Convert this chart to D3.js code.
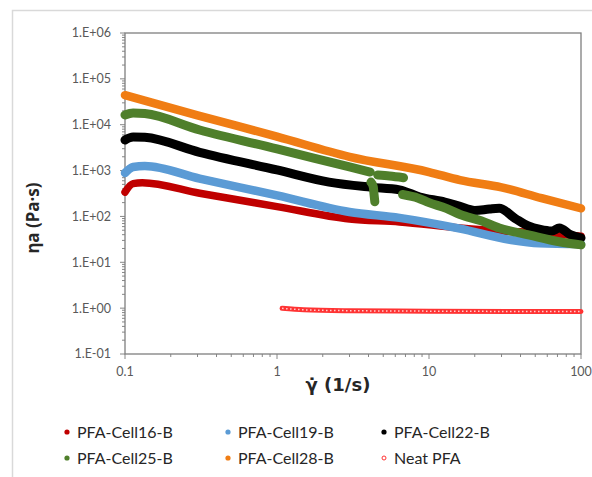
<!DOCTYPE html>
<html>
<head>
<meta charset="utf-8">
<script src="https://cdn.jsdelivr.net/npm/d3@7"></script>
<style>
  body { margin: 0; background: #fff; }
  svg { display: block; font-family: Lato, "Liberation Sans", sans-serif; }
</style>
</head>
<body>
<div id="chart"></div>
<script>
// values: [shear rate (1/s), viscosity (Pa·s)]
const cell16 = [[0.1, 340], [0.113, 520], [0.13, 540], [0.31, 320], [1, 164], [3, 88], [6.4, 76], [16, 56], [30, 48], [53, 44], [100, 37]];
const cell19 = [[0.1, 885], [0.113, 1200], [0.135, 1260], [0.31, 670], [1, 287], [3, 125], [6.4, 93], [16, 54], [34, 31], [53, 26], [100, 25]];
const cell22 = [[0.1, 4650], [0.113, 5400], [0.135, 5300], [0.31, 2500], [1, 1030], [2.2, 560], [4.1, 435], [6.4, 380], [8.7, 265], [12.7, 206],
                [16, 165], [20, 135], [25, 145], [29, 150], [37, 90], [45, 62], [54, 52], [64, 48], [72, 56], [85, 40], [100, 34]];
// green series has breaks, null marks a gap
const cell25 = [[0.1, 16300], [0.113, 18000], [0.135, 17500], [0.31, 7670], [1, 2960], [3, 1200], [4.1, 930], null,
                [4.15, 560], [4.3, 440], [4.35, 300], [4.4, 210], null,
                [4.6, 800], [5.5, 760], [6.8, 700], null,
                [6.7, 300], [8.5, 250], [10, 200], [13, 150], [16, 110], [22, 80], [29, 56], [46, 39], [72, 28], [100, 24]];
const cell28 = [[0.1, 44000], [0.3, 16000], [1, 5500], [3, 2000], [10, 930], [16, 620], [30, 430], [55, 250], [100, 150]];
const neat = [[1.08, 0.99], [1.5, 0.92], [3, 0.88], [10, 0.86], [100, 0.84]];

const seriesNames = ['PFA-Cell16-B', 'PFA-Cell19-B', 'PFA-Cell22-B', 'PFA-Cell25-B', 'PFA-Cell28-B', 'Neat PFA'];
const seriesColors = ['#c00000', '#5b9bd5', '#000000', '#4f7f2b', '#f07d14', '#ff3333'];
const xTicks = [0.1, 1, 10, 100];
const xTickLabels = ['0.1', '1', '10', '100'];
const yTicks = [0.1, 1, 10, 100, 1e3, 1e4, 1e5, 1e6];
const yTickLabels = ['1.E-01', '1.E+00', '1.E+01', '1.E+02', '1.E+03', '1.E+04', '1.E+05', '1.E+06'];

const W = 592, H = 477;
const plot = { left: 125, right: 581, top: 33, bottom: 354 };

const svg = d3.select('#chart').append('svg').attr('width', W).attr('height', H);

// outer chart border
svg.append('rect').attr('x', 12.5).attr('y', 10.5).attr('width', W).attr('height', H)
    .attr('fill', 'none').attr('stroke', '#d9d9d9').attr('stroke-width', 1.5);

const x = d3.scaleLog().domain([0.1, 100]).range([plot.left, plot.right]);
const y = d3.scaleLog().domain([0.1, 1e6]).range([plot.bottom, plot.top]);

// minor ticks
const yMinor = [];
yTicks.slice(0, -1).forEach(t => { for (let k = 2; k <= 9; k++) yMinor.push(t * k); });
const xMinor = [];
xTicks.slice(0, -1).forEach(t => { for (let k = 2; k <= 9; k++) xMinor.push(t * k); });

const axisColor = '#868686';
svg.append('g').selectAll('line').data(yMinor).join('line')
    .attr('x1', plot.left - 3).attr('x2', plot.left).attr('y1', d => y(d)).attr('y2', d => y(d))
    .attr('stroke', axisColor).attr('stroke-width', 1);
svg.append('g').selectAll('line').data(yTicks).join('line')
    .attr('x1', plot.left - 5).attr('x2', plot.left).attr('y1', d => y(d)).attr('y2', d => y(d))
    .attr('stroke', axisColor).attr('stroke-width', 1);
svg.append('g').selectAll('line').data(xMinor).join('line')
    .attr('x1', d => x(d)).attr('x2', d => x(d)).attr('y1', plot.bottom).attr('y2', plot.bottom + 3)
    .attr('stroke', axisColor).attr('stroke-width', 1);
svg.append('g').selectAll('line').data(xTicks).join('line')
    .attr('x1', d => x(d)).attr('x2', d => x(d)).attr('y1', plot.bottom).attr('y2', plot.bottom + 5)
    .attr('stroke', axisColor).attr('stroke-width', 1);

// plot frame
svg.append('rect').attr('x', plot.left).attr('y', plot.top)
    .attr('width', plot.right - plot.left).attr('height', plot.bottom - plot.top)
    .attr('fill', 'none').attr('stroke', '#7f7f7f').attr('stroke-width', 1.3);

// tick labels
svg.append('g').selectAll('text').data(yTicks).join('text')
    .attr('x', plot.left - 14).attr('y', d => y(d)).attr('dy', '0.35em')
    .attr('text-anchor', 'end').attr('font-size', 12.5).attr('fill', '#595959')
    .text((d, i) => yTickLabels[i]);
svg.append('g').selectAll('text').data(xTicks).join('text')
    .attr('x', d => x(d)).attr('y', plot.bottom + 22)
    .attr('text-anchor', 'middle').attr('font-size', 12.5).attr('fill', '#595959')
    .text((d, i) => xTickLabels[i]);

// axis titles
svg.append('text').attr('x', 338).attr('y', 391).attr('text-anchor', 'middle')
    .attr('font-family', '"DejaVu Sans", sans-serif')
    .attr('font-size', 18).attr('font-weight', 'bold').attr('fill', '#262626')
    .text('γ̇ (1/s)');
svg.append('text').attr('transform', 'translate(39,218) rotate(-90)').attr('text-anchor', 'middle')
    .attr('font-family', '"Noto Sans", "DejaVu Sans", sans-serif')
    .attr('font-size', 17).attr('font-weight', 'bold').attr('fill', '#262626')
    .text('ηa (Pa·s)');

// data
const line = d3.line().defined(d => d !== null).x(d => x(d[0])).y(d => y(d[1])).curve(d3.curveMonotoneX);
const filled = [cell16, cell19, cell22, cell25, cell28];
const widths = [7.5, 8.5, 9, 9, 8.5];
const g = svg.append('g');
filled.forEach((arr, i) => {
    g.append('path').datum(arr).attr('d', line)
        .attr('fill', 'none').attr('stroke', seriesColors[i]).attr('stroke-width', widths[i])
        .attr('stroke-linecap', 'round').attr('stroke-linejoin', 'round');
});
// neat PFA: chain of small open circles
g.append('path').datum(neat).attr('d', line)
    .attr('fill', 'none').attr('stroke', seriesColors[5]).attr('stroke-width', 5)
    .attr('stroke-linecap', 'round');
g.append('path').datum(neat).attr('d', line)
    .attr('fill', 'none').attr('stroke', '#ffd0d0').attr('stroke-width', 1.5)
    .attr('stroke-dasharray', '1.5 2.5');

// legend
const legendX = [67, 228, 384];
const legendY = [432, 458];
seriesNames.forEach((name, i) => {
    const lx = legendX[i % 3], ly = legendY[Math.floor(i / 3)];
    const lg = svg.append('g').attr('transform', `translate(${lx},${ly})`);
    if (i === 5) {
        lg.append('circle').attr('r', 2).attr('fill', '#fff').attr('stroke', seriesColors[i]).attr('stroke-width', 1);
    } else {
        lg.append('circle').attr('r', 2.6).attr('fill', seriesColors[i]);
    }
    lg.append('text').attr('x', 10).attr('dy', '0.36em').attr('font-size', 16).attr('fill', '#262626').text(name);
});
</script>
</body>
</html>
